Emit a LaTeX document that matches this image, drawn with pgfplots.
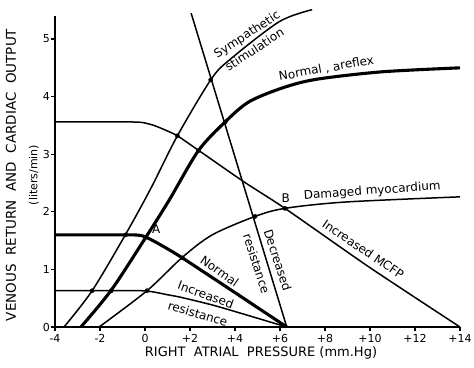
\documentclass[border=0pt]{standalone}
\usepackage{pgfplots}
\pgfplotsset{compat=1.18}
\usepackage{fontspec}
\setmainfont{DejaVu Sans}
\tikzset{
  thinl/.style={line width=1.5pt},
  thickl/.style={line width=3.1pt},
  lab/.style={font=\fontsize{12}{14}\selectfont, inner sep=0pt},
}
\begin{document}
\begin{tikzpicture}
\path[use as bounding box] (-55pt,-40pt) rectangle (419pt,327pt);
\begin{axis}[
  at={(0pt,0pt)}, anchor=south west,
  scale only axis, width=405pt, height=311pt,
  xmin=-4, xmax=14, ymin=0, ymax=5.4,
  axis lines=left, axis line style={-, line width=1.5pt},
  clip=false,
  xtick={-4,-2,...,14}, xticklabels={-4,-2,0,+2,+4,+6,+8,+10,+12,+14},
  ytick={0,1,2,3,4,5}, yticklabels={0,1,2,3,4,5},
  tick align=outside, major tick length=4pt, tick style={line width=1.2pt, black},
  ticklabel style={font=\fontsize{11}{13}\selectfont},
  yticklabel style={inner sep=1pt},
  every axis plot/.append style={black},
]
% Normal venous return (thick)
\addplot[thickl, smooth, tension=0.4] coordinates {(-4,1.6) (-2,1.6) (-0.6,1.6) (-0.2,1.59) (0.04,1.56) (0.4,1.49) (0.9,1.38) (1.66,1.2) (4,0.597) (6.3,0)};
% Increased resistance venous return
\addplot[thinl, smooth, tension=0.4] coordinates {(-4,0.63) (-1,0.63) (-0.2,0.63) (0.09,0.625) (0.5,0.6) (1.0,0.56) (1.6,0.515) (3.2,0.36) (6.3,0)};
% Increased MCFP venous return
\addplot[thinl, smooth, tension=0.4] coordinates {(-4,3.56) (-2,3.56) (-0.6,3.56) (-0.1,3.55) (0.4,3.5) (0.9,3.42) (1.44,3.32) (2.37,3.07) (4.4,2.52) (6.22,2.06) (10,1.03) (14,0)};
% Decreased resistance venous return
\addplot[thinl] coordinates {(2.05,5.45) (6.3,0)};
% Normal, areflex cardiac output (thick)
\addplot[thickl, smooth, tension=0.5] coordinates {(-2.85,0) (-1.5,0.64) (0.04,1.56) (1.07,2.2) (2.37,3.06) (3.56,3.56) (4.62,3.91) (6.1,4.15) (7.6,4.3) (10.5,4.43) (14,4.5)};
% Sympathetic stimulation
\addplot[thinl, smooth, tension=0.5] coordinates {(-3.6,0) (-2.35,0.63) (-0.86,1.61) (0.25,2.4) (1.44,3.32) (2.92,4.29) (3.73,4.63) (5.96,5.3) (7.43,5.51)};
% Damaged myocardium
\addplot[thinl, smooth, tension=0.5] coordinates {(-2.04,0) (0.09,0.63) (1.66,1.21) (2.99,1.6) (4.89,1.92) (6.22,2.06) (8.9,2.17) (14,2.26)};
% intersection dots
\addplot[only marks, mark=*, mark size=2.1pt] coordinates {(-0.86,1.6) (0.04,1.56) (1.66,1.2) (-2.35,0.63) (-1.5,0.63) (0.09,0.63) (1.44,3.32) (2.37,3.06) (2.92,4.29) (3.56,3.56) (4.89,1.92) (6.22,2.06)};
% labels
\node[lab, rotate=33] at (axis cs:4.55,5.07) {Sympathetic};
\node[lab, rotate=33] at (axis cs:4.86,4.82) {stimulation};
\node[lab, rotate=10] at (axis cs:8.06,4.49) {Normal , areflex};
\node[lab] at (axis cs:6.25,2.23) {B};
\node[lab, rotate=4] at (axis cs:10.1,2.36) {Damaged myocardium};
\node[lab] at (axis cs:0.5,1.7) {A};
\node[lab, rotate=-34] at (axis cs:9.7,1.35) {Increased MCFP};
\node[lab, rotate=-72] at (axis cs:5.9,1.16) {Decreased};
\node[lab, rotate=-72] at (axis cs:4.96,1.10) {resistance};
\node[lab, rotate=-35] at (axis cs:3.32,0.97) {Normal};
\node[lab, rotate=-20] at (axis cs:2.7,0.56) {Increased};
\node[lab, rotate=-17] at (axis cs:2.35,0.23) {resistance};
\end{axis}
\node[rotate=90, font=\fontsize{13.5}{15}\selectfont] at (-44pt,152pt) {VENOUS\ \ RETURN\ \ AND\ \ CARDIAC\ \ OUTPUT};
\node[rotate=90, font=\fontsize{11}{13}\selectfont] at (-21pt,152pt) {(liters/min)};
\node[font=\fontsize{13}{15}\selectfont] at (206pt,-26pt) {RIGHT\ \ ATRIAL\ \ PRESSURE (mm.Hg)};
\end{tikzpicture}
\end{document}
